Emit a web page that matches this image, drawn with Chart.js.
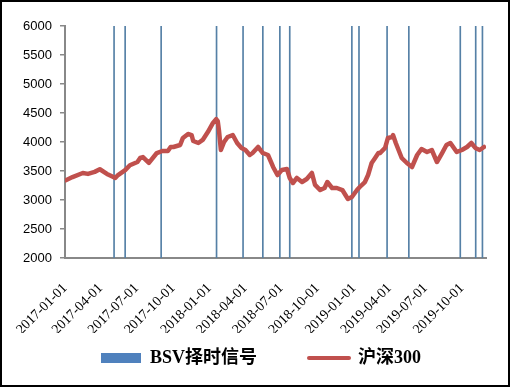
<!DOCTYPE html>
<html>
<head>
<meta charset="utf-8">
<script src="https://cdn.jsdelivr.net/npm/chart.js@4.4.0/dist/chart.umd.min.js"></script>
<style>
  html, body { margin: 0; padding: 0; background: #fff; }
  #wrap { width: 510px; height: 387px; box-sizing: border-box; border: 2px solid #000; }
</style>
</head>
<body>
<div id="wrap"><canvas id="chart" width="506" height="383"></canvas></div>
<script>
const tickLabels = ["2017-01-01", "2017-04-01", "2017-07-01", "2017-10-01",
  "2018-01-01", "2018-04-01", "2018-07-01", "2018-10-01",
  "2019-01-01", "2019-04-01", "2019-07-01", "2019-10-01"];

const dates = [
  "2017-01-03", "2017-01-20", "2017-02-15", "2017-02-28", "2017-03-17", "2017-03-30",
  "2017-04-17", "2017-05-02", "2017-05-08", "2017-05-15", "2017-06-02", "2017-06-14",
  "2017-07-03", "2017-07-10", "2017-07-17", "2017-08-01", "2017-08-21", "2017-09-04",
  "2017-09-18", "2017-09-25", "2017-10-02", "2017-10-19", "2017-10-26", "2017-11-08",
  "2017-11-17", "2017-11-21", "2017-12-04", "2017-12-15", "2017-12-28", "2018-01-10",
  "2018-01-18", "2018-01-22", "2018-01-25", "2018-01-30", "2018-02-07", "2018-02-16",
  "2018-03-01", "2018-03-12", "2018-03-23", "2018-04-02", "2018-04-13", "2018-04-20",
  "2018-05-04", "2018-05-16", "2018-05-29", "2018-06-11", "2018-06-22", "2018-07-03",
  "2018-07-16", "2018-07-23", "2018-07-31", "2018-08-10", "2018-08-23", "2018-09-04",
  "2018-09-17", "2018-09-25", "2018-10-08", "2018-10-19", "2018-10-26", "2018-11-07",
  "2018-11-19", "2018-12-03", "2018-12-17", "2018-12-27", "2019-01-09", "2019-01-16",
  "2019-01-29", "2019-02-06", "2019-02-15", "2019-02-22", "2019-03-04", "2019-03-08",
  "2019-03-21", "2019-03-28", "2019-04-08", "2019-04-10", "2019-04-17", "2019-04-22",
  "2019-05-02", "2019-05-15", "2019-05-28", "2019-06-10", "2019-06-21", "2019-07-05",
  "2019-07-17", "2019-07-30", "2019-08-12", "2019-08-23", "2019-09-02", "2019-09-18",
  "2019-10-01", "2019-10-14", "2019-10-25", "2019-11-04", "2019-11-15", "2019-11-26"
];

const closes = [
  3340, 3395, 3465, 3450, 3485, 3530,
  3450, 3400, 3380, 3430, 3515, 3600,
  3655, 3725, 3740, 3640, 3810, 3845,
  3845, 3915, 3914, 3948, 4070, 4138,
  4120, 4017, 3983, 4035, 4172, 4330,
  4395, 4360, 4207, 3862, 4000, 4086,
  4120, 3983, 3897, 3862, 3776, 3810,
  3914, 3810, 3776, 3570, 3430, 3517,
  3534, 3380, 3293, 3380, 3310, 3362,
  3466, 3259, 3172, 3207, 3310, 3207,
  3207, 3172, 3017, 3052, 3172, 3224,
  3310, 3431, 3638, 3707, 3810, 3810,
  3897, 4069, 4086, 4121, 3983, 3897,
  3724, 3638, 3569, 3776, 3879, 3828,
  3862, 3655, 3810, 3948, 3983, 3828,
  3862, 3914, 3983, 3897, 3862, 3914
];

const signalDates = ["2017-05-05", "2017-06-02", "2017-09-01", "2018-01-19", "2018-03-27",
  "2018-05-16", "2018-06-28", "2018-07-23", "2018-12-27", "2019-01-14",
  "2019-03-26", "2019-05-20", "2019-09-27", "2019-11-05", "2019-11-22"];

const startDate = "2017-01-01";
const endDate = "2019-12-01";
const dayOf = (s) => (Date.parse(s) - Date.parse(startDate)) / 86400000;

const legendFont = { family: "'Liberation Serif', 'Noto Sans CJK SC'", size: 18, weight: "bold" };

// move the legend to where the reference puts it (below the rotated date labels, a bit right of centre)
const legendShift = {
  id: "legendShift",
  afterLayout(chart) {
    const l = chart.legend;
    l.left += 17; l.right += 17;
    l.top -= 36; l.bottom -= 36;
  },
};

new Chart(document.getElementById("chart"), {
  type: "line",
  plugins: [legendShift],
  data: {
    datasets: [
      {
        label: "沪深300",
        data: dates.map((d, i) => ({ x: dayOf(d), y: closes[i] })),
        borderColor: "#C0504D",
        backgroundColor: "#C0504D",
        borderWidth: 4.5,
        borderJoinStyle: "round",
        borderCapStyle: "round",
        pointRadius: 0,
        tension: 0,
      },
      {
        type: "bar",
        label: "BSV择时信号",
        data: signalDates.map((d) => ({ x: dayOf(d), y: 6000 })),
        backgroundColor: "#5580A6",
        barThickness: 1,
        grouped: false,
      },
    ],
  },
  options: {
    responsive: false,
    animation: false,
    devicePixelRatio: 1,
    layout: { padding: { left: 0, right: 22, top: 24, bottom: -28 } },
    scales: {
      x: {
        type: "linear",
        min: 0,
        max: dayOf(endDate),
        offset: false,
        afterBuildTicks: (scale) => {
          scale.ticks = tickLabels.map((s) => ({ value: dayOf(s) }));
        },
        afterFit: (scale) => { scale.height = 75; },
        ticks: {
          autoSkip: false,
          maxRotation: 45,
          minRotation: 45,
          padding: 15,
          color: "#000",
          font: { family: "'Liberation Serif'", size: 14, lineHeight: 1 },
          callback: (v, i) => tickLabels[i],
        },
        grid: { display: false },
        border: { display: true, color: "#888", width: 2 },
      },
      y: {
        min: 2000,
        max: 6000,
        afterFit: (scale) => { scale.width = 63; },
        ticks: {
          stepSize: 500,
          padding: 8,
          color: "#000",
          font: { family: "'Liberation Sans'", size: 13 },
          callback: (v) => String(v),
        },
        grid: { drawOnChartArea: false, tickLength: 5, color: "#888", lineWidth: 1.5 },
        border: { color: "#888", width: 2 },
      },
    },
    plugins: {
      tooltip: { enabled: false },
      legend: {
        position: "bottom",
        reverse: true,
        labels: {
          usePointStyle: true,
          pointStyleWidth: 40,
          boxHeight: 10,
          padding: 52,
          color: "#000",
          font: legendFont,
          generateLabels: (chart) => {
            const items = Chart.defaults.plugins.legend.labels.generateLabels(chart);
            items.forEach((it) => {
              if (it.datasetIndex === 1) {
                it.pointStyle = "rect";
                it.fillStyle = "#4F81BD";
                it.strokeStyle = "#4F81BD";
                it.lineWidth = 0;
              } else {
                it.pointStyle = "line";
                it.strokeStyle = "#C0504D";
                it.lineWidth = 4;
                it.lineCap = "round";
              }
            });
            return items;
          },
        },
      },
    },
  },
});
</script>
</body>
</html>
